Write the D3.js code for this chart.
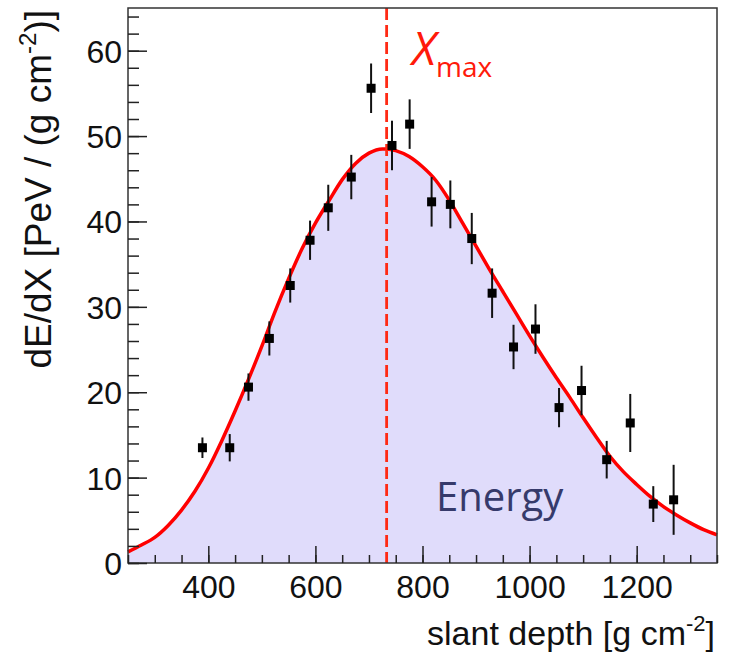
<!DOCTYPE html>
<html>
<head>
<meta charset="utf-8">
<script src="https://cdn.jsdelivr.net/npm/d3@7"></script>
<style>
  html, body { margin: 0; padding: 0; background: #fff; }
  svg { display: block; }
</style>
</head>
<body>
<svg id="chart" width="732" height="654"></svg>
<script>
// Measured energy deposit profile (slant depth in g/cm^2, dE/dX in PeV/(g/cm^2))
const pointDepth   = [389, 440, 475, 514, 553, 590, 624, 667, 704, 743, 776, 817, 852, 892, 930, 970, 1011, 1055, 1097, 1144, 1188, 1231, 1269];
const pointDeposit = [13.5, 13.5, 20.6, 26.3, 32.5, 37.8, 41.6, 45.2, 55.6, 48.9, 51.4, 42.3, 42.0, 38.0, 31.6, 25.3, 27.4, 18.2, 20.2, 12.1, 16.4, 6.9, 7.4];
const pointError   = [1.2, 1.6, 1.6, 2.0, 2.0, 2.3, 2.7, 2.6, 2.9, 2.9, 2.9, 2.9, 2.8, 3.0, 2.9, 2.6, 2.9, 2.3, 2.9, 2.2, 3.4, 2.1, 4.1];

// Fitted profile curve
const curveDepth   = [250, 275, 300, 325, 350, 375, 400, 425, 450, 475, 500, 525, 550, 575, 600, 625, 650, 675, 700, 725, 733, 750, 775, 800, 825, 850, 875, 900, 925, 950, 975, 1000, 1025, 1050, 1075, 1100, 1125, 1150, 1175, 1200, 1225, 1250, 1275, 1300, 1325, 1350];
const curveDeposit = [1.3, 2.1, 3.0, 4.4, 6.2, 8.4, 11.1, 14.3, 17.8, 21.5, 25.4, 29.5, 33.3, 36.8, 39.8, 42.4, 44.9, 46.8, 48.0, 48.5, 48.5, 48.3, 47.6, 46.4, 44.8, 42.5, 39.8, 37.1, 34.4, 31.8, 29.2, 26.6, 24.1, 21.7, 19.4, 17.0, 14.7, 12.5, 10.7, 9.2, 7.8, 6.6, 5.6, 4.7, 3.9, 3.3];

const xmaxDepth = 733;

const xDomain = [250, 1350];
const yDomain = [0, 65];
const xLabelTicks = [400, 600, 800, 1000, 1200];
const yLabelTicks = [0, 10, 20, 30, 40, 50, 60];

const svg = d3.select("#chart");
const frame = { left: 128, right: 717, top: 8, bottom: 563 };

const x = d3.scaleLinear().domain(xDomain).range([frame.left, frame.right]);
const y = d3.scaleLinear().domain(yDomain).range([frame.bottom, frame.top]);

const curve = curveDepth.map((d, i) => ({ x: d, y: curveDeposit[i] }));
const points = pointDepth.map((d, i) => ({ x: d, y: pointDeposit[i], e: pointError[i] }));

// Shaded area below the fit
svg.append("path")
  .datum(curve)
  .attr("fill", "#e0dcfb")
  .attr("d", d3.area().x(d => x(d.x)).y0(y(0)).y1(d => y(d.y)).curve(d3.curveMonotoneX));

// Fit line
svg.append("path")
  .datum(curve)
  .attr("fill", "none")
  .attr("stroke", "#ff0000")
  .attr("stroke-width", 3.5)
  .attr("d", d3.line().x(d => x(d.x)).y(d => y(d.y)).curve(d3.curveMonotoneX));

// Shower maximum marker
svg.append("line")
  .attr("x1", x(xmaxDepth)).attr("x2", x(xmaxDepth))
  .attr("y1", y(yDomain[1])).attr("y2", y(0))
  .attr("stroke", "#ff2a14")
  .attr("stroke-width", 2.8)
  .attr("stroke-dasharray", "12,5");

// Frame
svg.append("rect")
  .attr("x", frame.left).attr("y", frame.top)
  .attr("width", frame.right - frame.left).attr("height", frame.bottom - frame.top)
  .attr("fill", "none").attr("stroke", "#333").attr("stroke-width", 1.5);

// Axes with ticks inside the frame
const xMinor = d3.range(250, 1351, 50);
const yMinor = d3.range(0, 65.1, 2);
const axisFont = "Liberation Sans, Arial, sans-serif";

svg.append("g").attr("transform", `translate(0,${frame.bottom})`)
  .call(d3.axisBottom(x).tickValues(xMinor).tickSize(-8).tickFormat(""))
  .call(g => g.select(".domain").remove())
  .call(g => g.selectAll("line").attr("stroke", "#222").attr("stroke-width", 1.5));
svg.append("g").attr("transform", `translate(0,${frame.bottom})`)
  .call(d3.axisBottom(x).tickValues(xLabelTicks).tickSize(-17).tickPadding(0).tickFormat(d3.format("d")))
  .call(g => g.select(".domain").remove())
  .call(g => g.selectAll("line").attr("stroke", "#222").attr("stroke-width", 1.5))
  .call(g => g.selectAll("text")
    .attr("y", 35).attr("dy", 0)
    .attr("font-family", axisFont)
    .attr("font-size", 32).attr("fill", "#111"));

svg.append("g").attr("transform", `translate(${frame.left},0)`)
  .call(d3.axisLeft(y).tickValues(yMinor).tickSize(-11).tickFormat(""))
  .call(g => g.select(".domain").remove())
  .call(g => g.selectAll("line").attr("stroke", "#222").attr("stroke-width", 1.5));
svg.append("g").attr("transform", `translate(${frame.left},0)`)
  .call(d3.axisLeft(y).tickValues(yLabelTicks).tickSize(-19).tickPadding(0).tickFormat(d3.format("d")))
  .call(g => g.select(".domain").remove())
  .call(g => g.selectAll("line").attr("stroke", "#222").attr("stroke-width", 1.5))
  .call(g => g.selectAll("text")
    .attr("x", -6).attr("dy", "0.36em")
    .attr("font-family", axisFont)
    .attr("font-size", 32).attr("fill", "#111"));

// Data points with error bars
const pts = svg.append("g");
pts.selectAll("line.err").data(points).join("line")
  .attr("class", "err")
  .attr("x1", d => x(d.x)).attr("x2", d => x(d.x))
  .attr("y1", d => y(d.y - d.e)).attr("y2", d => y(d.y + d.e))
  .attr("stroke", "#111").attr("stroke-width", 2);
pts.selectAll("rect").data(points).join("rect")
  .attr("x", d => x(d.x) - 4.5).attr("y", d => y(d.y) - 4.5)
  .attr("width", 9).attr("height", 9)
  .attr("fill", "#000");

// Axis titles
const xt = svg.append("text")
  .attr("x", 715).attr("y", 645)
  .attr("text-anchor", "end")
  .attr("font-family", axisFont).attr("font-size", 34).attr("fill", "#111");
xt.append("tspan").text("slant depth [g cm");
xt.append("tspan").attr("font-size", 22).attr("dy", -14).text("-2");
xt.append("tspan").attr("dy", 14).text("]");

const yt = svg.append("text")
  .attr("transform", "translate(51,10) rotate(-90)")
  .attr("text-anchor", "end")
  .attr("font-family", axisFont).attr("font-size", 37).attr("fill", "#111");
yt.append("tspan").text("dE/dX [PeV / (g cm");
yt.append("tspan").attr("font-size", 24).attr("dy", -15).text("-2");
yt.append("tspan").attr("dy", 15).text(")]");

// Annotations
const xm = svg.append("text")
  .attr("x", 412).attr("y", 65)
  .attr("font-family", "Open Sans, sans-serif").attr("fill", "#ff1a0a");
xm.append("tspan").attr("font-size", 46).attr("font-style", "italic").text("X");
xm.append("tspan").attr("font-size", 28).attr("dy", 12).text("max");

svg.append("text")
  .attr("x", 436).attr("y", 511)
  .attr("font-family", "Open Sans, sans-serif")
  .attr("font-size", 40).attr("fill", "#363a6b")
  .text("Energy");
</script>
</body>
</html>
